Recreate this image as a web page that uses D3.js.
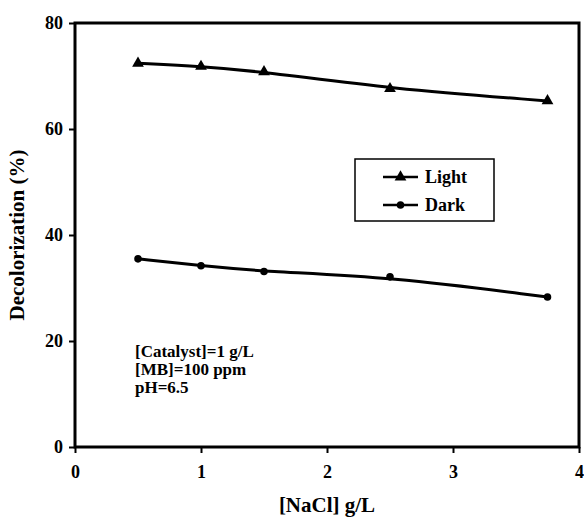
<!DOCTYPE html>
<html>
<head>
<meta charset="utf-8">
<script src="https://cdn.jsdelivr.net/npm/d3@7"></script>
<style>
  body { margin: 0; background: #fff; }
  text { font-family: "Liberation Serif", "Times New Roman", serif; font-weight: bold; fill: #000; }
</style>
</head>
<body>
<div id="chart"></div>
<script>
// data
var nacl = [0.5, 1, 1.5, 2.5, 3.75];
var lightVals = [72.4, 71.8, 70.8, 67.6, 65.3];
var darkVals = [35.5, 34.2, 33.1, 32.1, 28.3];
var xTicks = [0, 1, 2, 3, 4];
var yTicks = [0, 20, 40, 60, 80];
var notes = ["[Catalyst]=1 g/L", "[MB]=100 ppm", "pH=6.5"];

var svgWidth = 584;
var svgHeight = 520;
var margin = { top: 23, right: 5, bottom: 73, left: 75 };
var width = svgWidth - margin.left - margin.right;
var height = svgHeight - margin.top - margin.bottom;

var svg = d3.select("#chart").append("svg")
  .attr("width", svgWidth)
  .attr("height", svgHeight);

var chartGroup = svg.append("g")
  .attr("transform", `translate(${margin.left}, ${margin.top})`);

var x = d3.scaleLinear().domain([0, 4]).range([0, width]);
var y = d3.scaleLinear().domain([0, 80]).range([height, 0]);

// axes
var xAxis = chartGroup.append("g")
  .attr("transform", `translate(0, ${height})`)
  .call(d3.axisBottom(x).tickValues(xTicks).tickFormat(d3.format("d"))
    .tickSize(6).tickPadding(12).tickSizeOuter(0));
var yAxis = chartGroup.append("g")
  .call(d3.axisLeft(y).tickValues(yTicks).tickFormat(d3.format("d"))
    .tickSize(6).tickPadding(6).tickSizeOuter(0));

[xAxis, yAxis].forEach(function(a) {
  a.select(".domain").remove();
  a.selectAll("line").attr("stroke", "#000").attr("stroke-width", 2);
  a.selectAll("text").style("font-size", "18px")
    .style("font-family", "Liberation Serif, serif").style("font-weight", "bold");
});

// frame
chartGroup.append("rect")
  .attr("width", width)
  .attr("height", height)
  .attr("fill", "none")
  .attr("stroke", "#000")
  .attr("stroke-width", 3);

var lightData = nacl.map((d, i) => ({ x: d, y: lightVals[i] }));
var darkData = nacl.map((d, i) => ({ x: d, y: darkVals[i] }));

var line = d3.line()
  .x(d => x(d.x))
  .y(d => y(d.y))
  .curve(d3.curveBasis);

[lightData, darkData].forEach(function(s) {
  chartGroup.append("path")
    .datum(s)
    .attr("d", line)
    .attr("fill", "none")
    .attr("stroke", "#000")
    .attr("stroke-width", 3);
});

var tri = d3.symbol().type(d3.symbolTriangle).size(60);
var dot = d3.symbol().type(d3.symbolCircle).size(45);

chartGroup.selectAll(".light")
  .data(lightData)
  .enter()
  .append("path")
  .attr("d", tri)
  .attr("transform", d => `translate(${x(d.x)}, ${y(d.y)})`)
  .attr("fill", "#000");

chartGroup.selectAll(".dark")
  .data(darkData)
  .enter()
  .append("path")
  .attr("d", dot)
  .attr("transform", d => `translate(${x(d.x)}, ${y(d.y)})`)
  .attr("fill", "#000");

// legend
var legend = svg.append("g").attr("transform", "translate(355, 159)");
legend.append("rect")
  .attr("width", 139)
  .attr("height", 62)
  .attr("fill", "#fff")
  .attr("stroke", "#000")
  .attr("stroke-width", 1.5);

var items = [["Light", tri], ["Dark", dot]];
items.forEach(function(it, i) {
  var g = legend.append("g").attr("transform", `translate(0, ${18 + i * 28})`);
  g.append("line").attr("x1", 28).attr("x2", 63).attr("stroke", "#000").attr("stroke-width", 2.5);
  g.append("path").attr("d", it[1]).attr("transform", "translate(45.5, 0)").attr("fill", "#000");
  g.append("text").attr("x", 70).attr("dy", "0.35em").style("font-size", "18px").text(it[0]);
});

// condition notes
svg.append("text")
  .attr("x", 135)
  .attr("y", 357)
  .style("font-size", "17px")
  .selectAll("tspan")
  .data(notes)
  .enter()
  .append("tspan")
  .attr("x", 135)
  .attr("dy", (d, i) => i === 0 ? 0 : 18)
  .text(d => d);

// axis titles
svg.append("text")
  .attr("x", margin.left + width / 2)
  .attr("y", 512)
  .attr("text-anchor", "middle")
  .style("font-size", "21px")
  .text("[NaCl] g/L");

svg.append("text")
  .attr("transform", `translate(24, ${margin.top + height / 2}) rotate(-90)`)
  .attr("text-anchor", "middle")
  .style("font-size", "21px")
  .text("Decolorization (%)");
</script>
</body>
</html>
